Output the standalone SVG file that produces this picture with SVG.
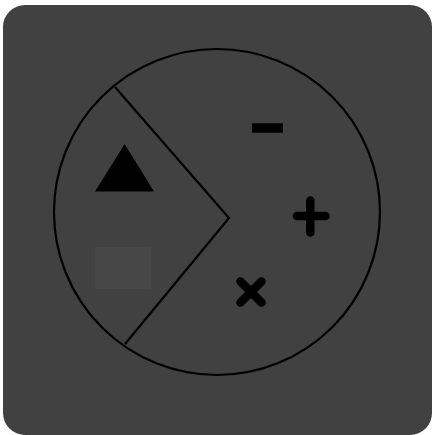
<svg xmlns="http://www.w3.org/2000/svg" width="432" height="435" viewBox="0 0 432 435">
<style>
.ln{fill:none;stroke:#000;stroke-width:2.2}
.sym{stroke:#000;stroke-width:8.5;stroke-linecap:round;fill:none}
</style>
<rect width="432" height="435" fill="#fff"/>
<rect x="3" y="5" width="429" height="430" rx="22" fill="#414141"/>
<g id="dial">
<circle cx="217" cy="212" r="163" class="ln"/>
</g>
<g id="connectors">
<polyline points="115,87 229,218 125,344" class="ln"/>
</g>
<g id="triangle"><polygon points="124.7,144 95,191.5 154,191.5" fill="#000"/></g>
<g id="square"><rect x="95" y="247" width="56" height="42" fill="#474747"/></g>
<g id="minus"><rect x="252" y="123.3" width="31" height="9.4" fill="#000"/></g>
<g id="plus"><path d="M297 216H325.5M310.3 200.5V232.5" class="sym" stroke-linecap="butt"/></g>
<g id="times"><path d="M240.5 281.5L261.5 302.5M261.5 281.5L240.5 302.5" class="sym"/></g>
</svg>
